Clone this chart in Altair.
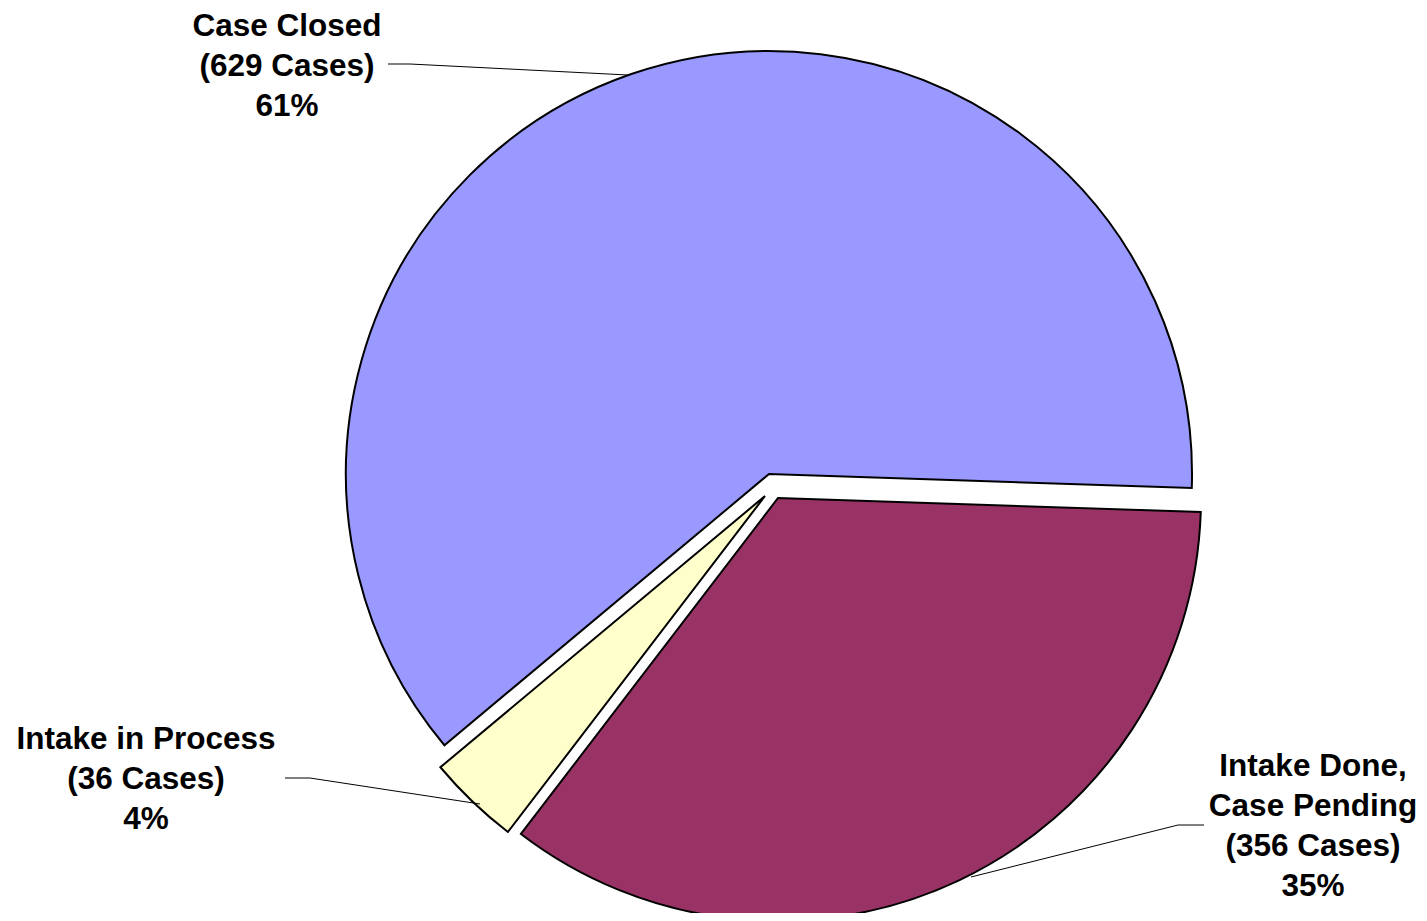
import math
import altair as alt
import pandas as pd

# ---- data ----
categories = ["Intake Done, Case Pending", "Intake in Process", "Case Closed"]
cases = [356, 36, 629]
pct_labels = ["35%", "4%", "61%"]
label_lines = [
    ["Intake Done,", "Case Pending"],
    ["Intake in Process"],
    ["Case Closed"],
]

# ---- styling / layout ----
colors = ["#993366", "#FFFFCC", "#9999FF"]
START_DEG = 91.9
CX, CY, R = 761, 466, 423
explode = [(9, 24), (-4, 22), (0, 0)]
label_pos = [(1305, 743), (138, 716), (279, 3)]
leaders = [
    [(1196, 817), (1170, 817), (963, 869)],
    [(277, 770), (302, 770), (472, 796)],
    [(380, 56), (402, 56), (620, 67)],
]
FONT = "Liberation Sans"
FS = 31.5

df = pd.DataFrame({"category": categories, "cases": cases, "order": list(range(len(categories)))})

start = math.radians(START_DEG)
theta_scale = alt.Scale(domain=[0, 1], range=[start, start + 2 * math.pi])
color_scale = alt.Scale(domain=categories, range=colors)

base = (
    alt.Chart(df)
    .transform_joinaggregate(total="sum(cases)")
    .transform_window(cum="sum(cases)", sort=[alt.SortField("order", order="ascending")], frame=[None, 0])
    .transform_calculate(start="(datum.cum - datum.cases) / datum.total", end="datum.cum / datum.total")
)

layers = []
for i, (dx, dy) in enumerate(explode):
    layers.append(
        base.transform_filter(alt.datum.order == i)
        .mark_arc(outerRadius=R, stroke="black", strokeWidth=2, strokeJoin="miter")
        .encode(
            theta=alt.Theta("start:Q", scale=theta_scale),
            theta2="end:Q",
            color=alt.Color("category:N", scale=color_scale, legend=None),
            x=alt.value(CX + dx),
            y=alt.value(CY + dy),
        )
    )

# leader lines
for i, pts in enumerate(leaders):
    ldf = pd.DataFrame({"px": [p[0] for p in pts], "py": [p[1] for p in pts], "k": list(range(len(pts)))})
    layers.append(
        alt.Chart(ldf)
        .mark_line(color="black", strokeWidth=1)
        .encode(
            x=alt.X("px:Q", scale=None, axis=None),
            y=alt.Y("py:Q", scale=None, axis=None),
            order="k:Q",
        )
    )

# labels
for i in range(len(categories)):
    txt = "\n".join(label_lines[i] + [f"({cases[i]} Cases)", pct_labels[i]])
    tdf = pd.DataFrame({"t": [txt]})
    layers.append(
        alt.Chart(tdf)
        .mark_text(
            font=FONT, fontSize=FS, fontWeight="bold", color="black",
            align="center", baseline="top", lineBreak="\n", lineHeight=40,
        )
        .encode(text="t:N", x=alt.value(label_pos[i][0]), y=alt.value(label_pos[i][1]))
    )

chart = (
    alt.layer(*layers)
    .properties(width=1411, height=905, autosize=alt.AutoSizeParams(type="none"), padding=0, background="white")
    .configure_view(stroke=None)
)

chart.save("out.html", embed_options={"renderer": "svg", "actions": False})
